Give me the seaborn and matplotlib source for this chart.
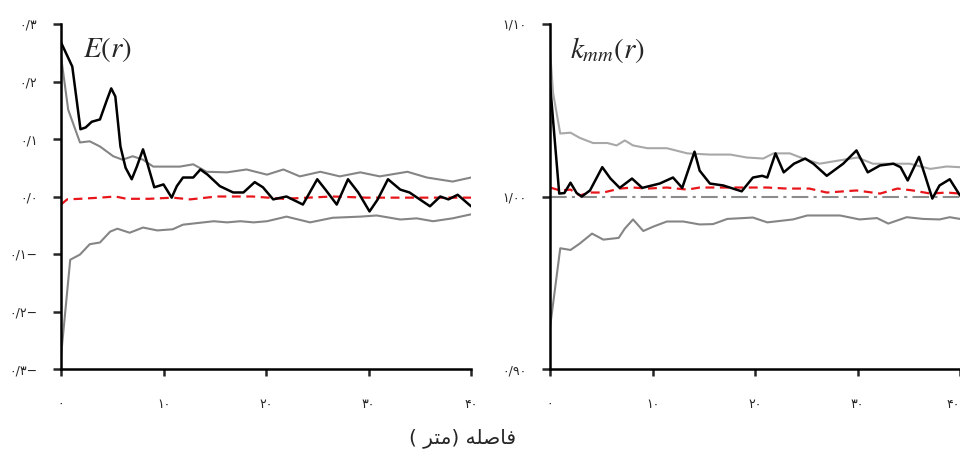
import matplotlib
matplotlib.use("Agg")
import matplotlib.pyplot as plt
import seaborn as sns
import pandas as pd

# left panel: E(r)
e_r = [0, 1.1, 1.9, 2.4, 3.0, 3.8, 4.5, 4.9, 5.3, 5.8, 6.3, 6.9, 7.4, 8.0, 8.4, 9.1,
       10.0, 10.8, 11.3, 11.9, 12.9, 13.6, 14.3, 15.5, 16.8, 17.8, 18.9, 19.7, 20.7,
       22.0, 23.6, 25.0, 25.8, 26.9, 28.0, 29.0, 30.1, 30.9, 31.9, 33.1, 34.0, 35.0,
       36.0, 37.0, 37.8, 38.7, 40.0]
e_obs = [0.268, 0.226, 0.117, 0.12, 0.13, 0.134, 0.169, 0.188, 0.174, 0.087, 0.05,
         0.03, 0.052, 0.082, 0.059, 0.016, 0.021, -0.002, 0.018, 0.033, 0.033, 0.047,
         0.038, 0.018, 0.007, 0.007, 0.025, 0.016, -0.005, 0.0, -0.014, 0.03, 0.012,
         -0.014, 0.03, 0.007, -0.026, -0.005, 0.03, 0.012, 0.007, -0.005, -0.017, 0.0,
         -0.005, 0.003, -0.017]
e_hi_r = [0, 0.7, 1.85, 2.8, 3.8, 5.1, 6.0, 7.0, 8.0, 9.0, 10.3, 11.6, 12.9, 14.2,
          16.2, 18.1, 20.1, 21.7, 23.3, 25.3, 27.2, 29.2, 31.1, 33.8, 35.7, 38.2, 40.0]
e_hi = [0.244, 0.151, 0.094, 0.096, 0.087, 0.07, 0.064, 0.07, 0.064, 0.052, 0.052,
        0.052, 0.056, 0.043, 0.042, 0.047, 0.038, 0.047, 0.035, 0.043, 0.035, 0.042,
        0.035, 0.043, 0.033, 0.026, 0.033]
e_lo_r = [0, 0.9, 1.85, 2.8, 3.8, 4.8, 5.5, 6.7, 8.0, 9.4, 10.9, 11.9, 14.9, 16.2,
          17.5, 18.8, 20.1, 22.0, 24.3, 26.5, 29.2, 30.8, 33.1, 34.7, 36.3, 38.2, 40.0]
e_lo = [-0.278, -0.11, -0.101, -0.083, -0.08, -0.061, -0.056, -0.063, -0.054, -0.059,
        -0.057, -0.049, -0.043, -0.045, -0.043, -0.045, -0.043, -0.035, -0.045, -0.037,
        -0.035, -0.033, -0.04, -0.038, -0.043, -0.038, -0.031]
e_exp_r = [0, 0.6, 1.85, 3.8, 5.3, 6.4, 8.6, 10.9, 12.6, 15.2, 18.7, 21.7, 26.5,
           29.8, 33.1, 40.0]
e_exp = [-0.014, -0.005, -0.004, -0.002, 0.0, -0.004, -0.004, -0.002, -0.005, 0.0,
         0.0, -0.004, 0.0, -0.002, -0.002, -0.002]

# right panel: k_mm(r)
k_r = [0, 0.9, 1.4, 2.0, 2.6, 3.1, 3.9, 5.1, 5.9, 6.8, 8.0, 9.0, 10.7, 12.0, 12.9,
       14.1, 14.6, 15.6, 16.9, 18.7, 19.8, 20.7, 21.2, 22.0, 22.8, 23.8, 24.9, 25.7,
       27.0, 28.6, 29.9, 31.0, 32.2, 33.5, 34.2, 34.9, 36.0, 36.6, 37.3, 38.0, 39.0, 40.0]
k_obs = [1.0655, 1.0017, 1.002, 1.008, 1.002, 1.0, 1.0035, 1.017, 1.0104, 1.005,
         1.0104, 1.005, 1.0075, 1.011, 1.005, 1.026, 1.015, 1.0075, 1.0064, 1.003,
         1.011, 1.012, 1.011, 1.025, 1.014, 1.019, 1.022, 1.019, 1.012, 1.019, 1.0267,
         1.014, 1.018, 1.019, 1.017, 1.0093, 1.023, 1.012, 0.9988, 1.0064, 1.01, 1.0006]
k_hi_r = [0, 0.3, 1.0, 2.0, 2.9, 4.2, 5.6, 6.5, 7.3, 8.1, 9.5, 11.4, 13.4, 15.6, 17.6,
          19.2, 20.8, 21.8, 23.4, 24.7, 26.3, 28.3, 30.0, 31.5, 33.5, 35.1, 37.1, 38.7, 40.0]
k_hi = [1.085, 1.06, 1.0365, 1.037, 1.034, 1.031, 1.031, 1.0296, 1.0325, 1.0296, 1.028,
        1.028, 1.025, 1.0243, 1.0243, 1.0226, 1.022, 1.025, 1.025, 1.022, 1.019, 1.021,
        1.0226, 1.019, 1.019, 1.019, 1.016, 1.0174, 1.017]
k_lo_r = [0, 1.0, 2.0, 2.9, 4.1, 5.2, 6.7, 7.3, 8.1, 9.1, 10.1, 11.4, 13.0, 14.6, 15.9,
          17.3, 19.8, 21.2, 23.7, 25.1, 28.3, 30.2, 31.9, 33.0, 34.8, 36.4, 38.0, 39.0, 40.0]
k_lo = [0.924, 0.97, 0.969, 0.9727, 0.9785, 0.975, 0.976, 0.9814, 0.9867, 0.98, 0.9826,
        0.9855, 0.9855, 0.9838, 0.984, 0.987, 0.9878, 0.985, 0.9867, 0.989, 0.989,
        0.9867, 0.9875, 0.9843, 0.988, 0.987, 0.9867, 0.988, 0.987]
k_exp_r = [0, 1.0, 2.0, 2.9, 3.9, 5.2, 6.8, 8.1, 9.5, 11.4, 13.4, 14.6, 16.6, 19.2,
           21.2, 23.1, 25.3, 27.0, 29.9, 32.2, 33.9, 35.4, 37.1, 38.7, 40.0]
k_exp = [1.0052, 1.0035, 1.004, 1.0006, 1.0023, 1.0023, 1.0046, 1.0052, 1.0046, 1.0052,
         1.004, 1.0052, 1.0052, 1.0052, 1.0052, 1.0046, 1.0046, 1.0023, 1.0035, 1.0017,
         1.0046, 1.0035, 1.0017, 1.0023, 1.0017]

x_ticks = [0, 10, 20, 30, 40]
x_labels = ["۰", "۱۰", "۲۰", "۳۰", "۴۰"]
e_ticks = [0.3, 0.2, 0.1, 0.0, -0.1, -0.2, -0.3]
e_labels = ["۰/۳", "۰/۲", "۰/۱", "۰/۰", "۰/۱−", "۰/۲−", "۰/۳−"]
k_ticks = [1.10, 1.00, 0.90]
k_labels = ["۱/۱۰", "۱/۰۰", "۰/۹۰"]
# "فاصله (متر)" in shaped presentation forms, visual order
x_title = "( ﺮﺘﻣ) ﻪﻠﺻﺎﻓ"

sns.set_style("white")
plt.rcParams["font.family"] = ["DejaVu Sans"]
plt.rcParams["mathtext.fontset"] = "stix"

fig = plt.figure(figsize=(9.6, 4.57), dpi=100)
ax1 = fig.add_axes([61 / 960, 88 / 457, 410 / 960, 345 / 457])
ax2 = fig.add_axes([550 / 960, 88 / 457, 410 / 960, 345 / 457])


def draw(ax, x, y, **kw):
    df = pd.DataFrame({"x": x, "y": y})
    sns.lineplot(data=df, x="x", y="y", ax=ax, sort=False, estimator=None, **kw)


draw(ax1, e_hi_r, e_hi, color="#858585", lw=1.5)
draw(ax1, e_lo_r, e_lo, color="#858585", lw=1.5)
draw(ax1, e_exp_r, e_exp, color="#e8161b", lw=1.6, dashes=(4, 2.5))
draw(ax1, e_r, e_obs, color="black", lw=1.8)

ax2.axhline(1.0, color="#8c8c8c", lw=1.5, dashes=(8, 2.5, 1.5, 2.5), zorder=1)
draw(ax2, k_hi_r, k_hi, color="#a8a8a8", lw=1.5)
draw(ax2, k_lo_r, k_lo, color="#858585", lw=1.5)
draw(ax2, k_exp_r, k_exp, color="#e8161b", lw=1.6, dashes=(4, 2.5))
draw(ax2, k_r, k_obs, color="black", lw=1.8)

for ax, yt, yl, lim in [(ax1, e_ticks, e_labels, (-0.3, 0.3)),
                        (ax2, k_ticks, k_labels, (0.9, 1.1))]:
    ax.set_xlim(0, 40)
    ax.set_ylim(*lim)
    ax.set_xticks(x_ticks)
    ax.set_xticklabels(x_labels)
    ax.set_yticks(yt)
    ax.set_yticklabels(yl)
    ax.set_xlabel("")
    ax.set_ylabel("")
    for s in ["top", "right"]:
        ax.spines[s].set_visible(False)
    for s in ["left", "bottom"]:
        ax.spines[s].set_linewidth(1.8)
        ax.spines[s].set_color("black")
    ax.tick_params(axis="y", direction="out", length=6, width=1.8, pad=11,
                   labelsize=9, left=True)
    ax.tick_params(axis="x", direction="out", length=5, width=1.8, pad=16,
                   labelsize=9, bottom=True)

# last x label of the right panel sits at the figure edge
ax2.get_xticklabels()[-1].set_horizontalalignment("right")

ax1.text(22 / 410, 1 - 26 / 345, "$E(r)$", transform=ax1.transAxes,
         fontsize=21, va="center", ha="left")
ax2.text(20 / 410, 1 - 26 / 345, "$k_{mm}(r)$", transform=ax2.transAxes,
         fontsize=21, va="center", ha="left")

fig.text(463 / 960, 1 - 438 / 457, x_title, fontsize=14.5, ha="center", va="center",
         family=["DejaVu Sans"])

fig.savefig("out.png", dpi=100)
